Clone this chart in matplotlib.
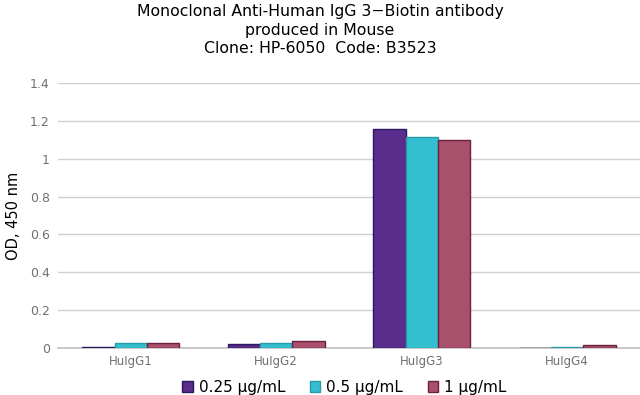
import matplotlib
matplotlib.use("Agg")
import matplotlib.pyplot as plt
import numpy as np

categories = ["HuIgG1", "HuIgG2", "HuIgG3", "HuIgG4"]
series_names = ["0.25 µg/mL", "0.5 µg/mL", "1 µg/mL"]
vals_025 = [0.004, 0.019, 1.155, 0.0]
vals_05 = [0.024, 0.024, 1.115, 0.004]
vals_1 = [0.024, 0.038, 1.098, 0.016]
yticks = [0, 0.2, 0.4, 0.6, 0.8, 1, 1.2, 1.4]
ytick_labels = ["0", "0.2", "0.4", "0.6", "0.8", "1", "1.2", "1.4"]

colors = ["#5a2d8c", "#33bfd0", "#a8506c"]
edges = ["#2b1660", "#2a9aa8", "#6e2040"]

fig = plt.figure(figsize=(6.4, 3.95), dpi=100)
ax = fig.add_axes([0.0906, 0.119, 0.9094, 0.671])

x = np.arange(len(categories))
w = 0.222
for i, (vals, c, e, name) in enumerate(zip([vals_025, vals_05, vals_1], colors, edges, series_names)):
    ax.bar(x + (i - 1) * w, vals, width=w, color=c, edgecolor=e, linewidth=1.0,
           label=name, zorder=3)

ax.set_xlim(-0.5, len(categories) - 0.5)
ax.set_ylim(0, 1.4)
ax.set_yticks(yticks)
ax.set_yticklabels(ytick_labels)
ax.set_xticks(x)
ax.set_xticklabels(categories)
ax.yaxis.grid(True, color="#d0d0d0", linewidth=1.0, zorder=0)
for s in ["top", "right", "left"]:
    ax.spines[s].set_visible(False)
ax.spines["bottom"].set_color("#c0c0c0")
ax.spines["bottom"].set_linewidth(1.2)
ax.tick_params(axis="y", length=0, pad=6, labelsize=9, labelcolor="#707070")
ax.tick_params(axis="x", length=0, pad=5, labelsize=8.5, labelcolor="#707070")
ax.set_ylabel("OD, 450 nm", fontsize=10.5)
ax.yaxis.set_label_coords(-0.063, 0.5)

fig.suptitle("Monoclonal Anti-Human IgG 3\u2212Biotin antibody\nproduced in Mouse\nClone: HP-6050  Code: B3523",
             fontsize=11.3, y=0.99, linespacing=1.3)

ax.legend(loc="center", bbox_to_anchor=(0.492, -0.148), ncol=3, frameon=False,
          fontsize=11, handlelength=0.7, handleheight=0.7, handletextpad=0.4,
          columnspacing=1.6, borderpad=0)

fig.savefig("out.png", dpi=100)
